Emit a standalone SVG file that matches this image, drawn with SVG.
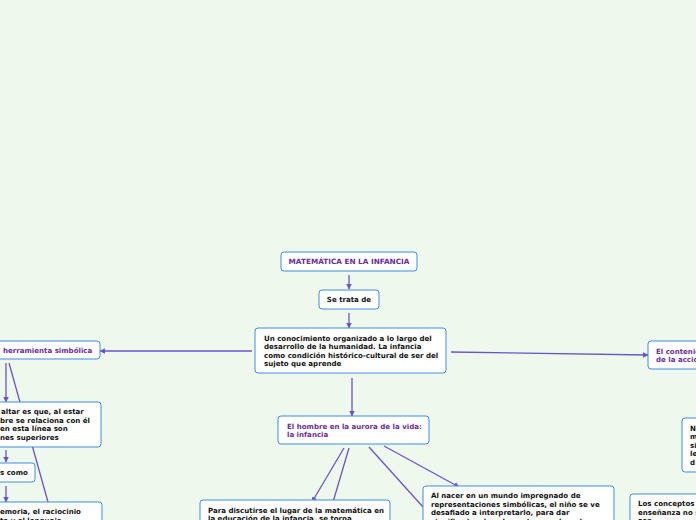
<svg xmlns="http://www.w3.org/2000/svg" width="696" height="520" viewBox="0 0 696 520">
<style>
.bg{fill:#EFF8EC}
.box{fill:#fff;stroke:#3D8DE8;stroke-width:1}
.t{font-family:"DejaVu Sans",Verdana,sans-serif;font-weight:bold;font-size:7.05px;fill:#111}
.p{fill:#6A2E97}
.c{stroke:#6A55C8;stroke-width:1.3;fill:none}
</style>
<defs>
<marker id="ah" viewBox="0 0 10 10" refX="9" refY="5" markerWidth="5.5" markerHeight="5.5" orient="auto" markerUnits="userSpaceOnUse">
<path d="M0,0L10,5L0,10z" fill="#6A55C8"/>
</marker>
</defs>
<rect class="bg" x="0" y="0" width="696" height="520"/>
<g id="connectors">
<line class="c" x1="349" y1="275" x2="349" y2="289" marker-end="url(#ah)"/>
<line class="c" x1="349" y1="313" x2="349" y2="328" marker-end="url(#ah)"/>
<line class="c" x1="252" y1="351" x2="100" y2="351" marker-end="url(#ah)"/>
<line class="c" x1="451" y1="352" x2="648" y2="355" marker-end="url(#ah)"/>
<line class="c" x1="352" y1="378" x2="352" y2="416" marker-end="url(#ah)"/>
<line class="c" x1="6" y1="363" x2="6" y2="402" marker-end="url(#ah)"/>
<line class="c" x1="9" y1="363" x2="48" y2="502"/>
<line class="c" x1="6" y1="450" x2="6" y2="462" marker-end="url(#ah)"/>
<line class="c" x1="6" y1="486" x2="6" y2="502" marker-end="url(#ah)"/>
<line class="c" x1="344" y1="448" x2="312" y2="502" marker-end="url(#ah)"/>
<line class="c" x1="349" y1="448" x2="333" y2="502"/>
<line class="c" x1="369" y1="447" x2="423" y2="507"/>
<line class="c" x1="384" y1="446" x2="459" y2="487" marker-end="url(#ah)"/>
</g>
<g id="n-title">
<rect class="box" x="281" y="252" width="136" height="19" rx="3"/>
<text class="t p" x="349" y="264" text-anchor="middle" style="font-size:7.3px">MATEMÁTICA EN LA INFANCIA</text>
</g>
<g id="n-setrata">
<rect class="box" x="319" y="290" width="60" height="19" rx="3"/>
<text class="t" x="349" y="302" text-anchor="middle">Se trata de</text>
</g>
<g id="n-main">
<rect class="box" x="255" y="328" width="191" height="45" rx="3"/>
<text class="t" x="264" y="340.5">Un conocimiento organizado a lo largo del</text>
<text class="t" x="264" y="349">desarrollo de la humanidad. La infancia</text>
<text class="t" x="264" y="357.5">como condición histórico-cultural de ser del</text>
<text class="t" x="264" y="366">sujeto que aprende</text>
</g>
<g id="n-herramienta">
<rect class="box" x="-10" y="341" width="110" height="18" rx="3"/>
<text class="t p" x="3" y="353">herramienta simbólica</text>
</g>
<g id="n-resaltar">
<rect class="box" x="-10" y="402" width="111" height="45" rx="3"/>
<text class="t" x="1" y="414">altar es que, al estar</text>
<text class="t" x="0" y="422.5">bre se relaciona con él</text>
<text class="t" x="0" y="431">en esta línea son</text>
<text class="t" x="0" y="439.5">nes superiores</text>
</g>
<g id="n-como">
<rect class="box" x="-10" y="463" width="45" height="19" rx="3"/>
<text class="t" x="0" y="475">s como</text>
</g>
<g id="n-memoria">
<rect class="box" x="-10" y="502" width="112" height="30" rx="3"/>
<text class="t" x="0" y="514">emoria, el raciocinio</text>
<text class="t" x="0" y="522.5">to y el lenguaje</text>
</g>
<g id="n-hombre">
<rect class="box" x="278" y="416" width="151" height="28" rx="3"/>
<text class="t p" x="287" y="428.5">El hombre en la aurora de la vida:</text>
<text class="t p" x="287" y="437">la infancia</text>
</g>
<g id="n-discutirse">
<rect class="box" x="200" y="500" width="190" height="30" rx="3"/>
<text class="t" x="208" y="512.5">Para discutirse el lugar de la matemática en</text>
<text class="t" x="208" y="521">la educación de la infancia, se torna</text>
</g>
<g id="n-nacer">
<rect class="box" x="423" y="486" width="191" height="44" rx="3"/>
<text class="t" x="431" y="498">Al nacer en un mundo impregnado de</text>
<text class="t" x="431" y="506.5">representaciones simbólicas, el niño se ve</text>
<text class="t" x="431" y="515">desafiado a interpretarlo, para dar</text>
<text class="t" x="431" y="523.5">significado a los elementos que lo rodean</text>
</g>
<g id="n-contenido">
<rect class="box" x="648" y="341" width="60" height="28" rx="3"/>
<text class="t p" x="656" y="353.5">El contenido</text>
<text class="t p" x="656" y="362">de la acción</text>
</g>
<g id="n-n">
<rect class="box" x="682" y="418" width="30" height="54" rx="3"/>
<text class="t" x="690" y="430.5">N</text>
<text class="t" x="690" y="439">m</text>
<text class="t" x="690" y="447.5">si</text>
<text class="t" x="690" y="456">le</text>
<text class="t" x="690" y="464.5">d</text>
</g>
<g id="n-conceptos">
<rect class="box" x="630" y="494" width="80" height="36" rx="3"/>
<text class="t" x="638" y="506">Los conceptos</text>
<text class="t" x="638" y="514.5">enseñanza no s</text>
<text class="t" x="638" y="523">son</text>
</g>
</svg>
